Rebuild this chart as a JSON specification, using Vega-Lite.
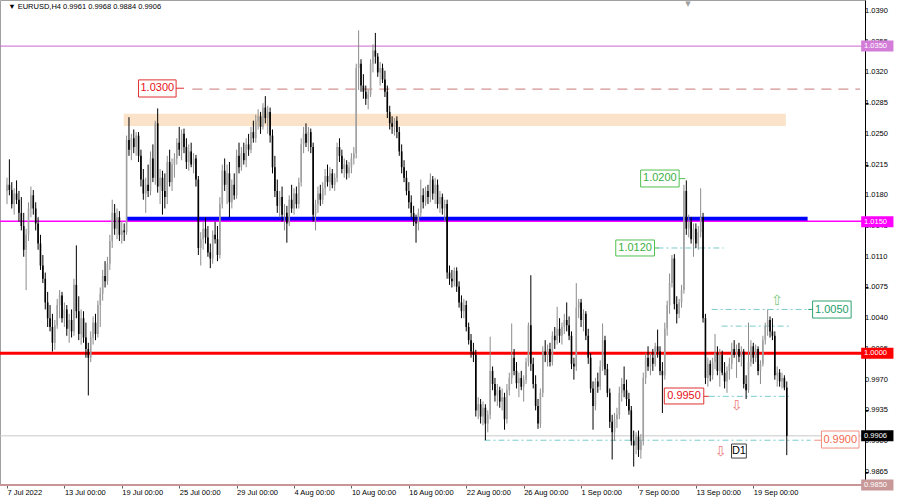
{
"$schema":"https://vega.github.io/schema/vega-lite/v6.json",
"width":865,"height":485,"autosize":"none",
"padding":{"left":0,"top":0,"right":35,"bottom":13},
"background":"#ffffff",
"config":{"view":{"stroke":"#a0a0a0","strokeWidth":1},"axis":{"grid":false}},
"resolve":{"scale":{"stroke":"independent","color":"independent","fill":"independent"}},
"datasets":{"k":[
{"i":0,"o":1.0185,"h":1.0200,"l":1.0170,"c":1.0192},
{"i":1,"o":1.0192,"h":1.0221,"l":1.0180,"c":1.0186},
{"i":2,"o":1.0186,"h":1.0195,"l":1.0165,"c":1.0170},
{"i":3,"o":1.0170,"h":1.0188,"l":1.0158,"c":1.0182},
{"i":4,"o":1.0182,"h":1.0197,"l":1.0170,"c":1.0175},
{"i":5,"o":1.0175,"h":1.0185,"l":1.0150,"c":1.0160},
{"i":6,"o":1.0160,"h":1.0178,"l":1.0140,"c":1.0145},
{"i":7,"o":1.0145,"h":1.0160,"l":1.0110,"c":1.0118},
{"i":8,"o":1.0118,"h":1.0142,"l":1.0072,"c":1.0135},
{"i":9,"o":1.0135,"h":1.0172,"l":1.0128,"c":1.0165},
{"i":10,"o":1.0165,"h":1.0190,"l":1.0155,"c":1.0180},
{"i":11,"o":1.0180,"h":1.0186,"l":1.0158,"c":1.0165},
{"i":12,"o":1.0165,"h":1.0172,"l":1.0140,"c":1.0148},
{"i":13,"o":1.0148,"h":1.0155,"l":1.0118,"c":1.0125},
{"i":14,"o":1.0125,"h":1.0135,"l":1.0095,"c":1.0100},
{"i":15,"o":1.0100,"h":1.0112,"l":1.0080,"c":1.0085},
{"i":16,"o":1.0085,"h":1.0092,"l":1.0050,"c":1.0058},
{"i":17,"o":1.0058,"h":1.0070,"l":1.0030,"c":1.0040},
{"i":18,"o":1.0040,"h":1.0055,"l":1.0025,"c":1.0030},
{"i":19,"o":1.0030,"h":1.0045,"l":1.0002,"c":1.0012},
{"i":20,"o":1.0012,"h":1.0038,"l":1.0004,"c":1.0032},
{"i":21,"o":1.0032,"h":1.0062,"l":1.0028,"c":1.0055},
{"i":22,"o":1.0055,"h":1.0072,"l":1.0040,"c":1.0066},
{"i":23,"o":1.0066,"h":1.0070,"l":1.0035,"c":1.0040},
{"i":24,"o":1.0040,"h":1.0058,"l":1.0030,"c":1.0050},
{"i":25,"o":1.0050,"h":1.0055,"l":1.0020,"c":1.0028},
{"i":26,"o":1.0028,"h":1.0045,"l":1.0012,"c":1.0038},
{"i":27,"o":1.0038,"h":1.0050,"l":1.0018,"c":1.0025},
{"i":28,"o":1.0025,"h":1.0085,"l":1.0020,"c":1.0078},
{"i":29,"o":1.0078,"h":1.0123,"l":1.0040,"c":1.0048},
{"i":30,"o":1.0048,"h":1.0065,"l":1.0015,"c":1.0022},
{"i":31,"o":1.0022,"h":1.0050,"l":1.0010,"c":1.0040},
{"i":32,"o":1.0040,"h":1.0048,"l":1.0012,"c":1.0018},
{"i":33,"o":1.0018,"h":1.0035,"l":0.9995,"c":1.0005},
{"i":34,"o":1.0005,"h":1.0012,"l":0.9952,"c":0.9995},
{"i":35,"o":0.9995,"h":1.0025,"l":0.9990,"c":1.0018},
{"i":36,"o":1.0018,"h":1.0042,"l":1.0010,"c":1.0035},
{"i":37,"o":1.0035,"h":1.0045,"l":1.0015,"c":1.0022},
{"i":38,"o":1.0022,"h":1.0060,"l":1.0018,"c":1.0055},
{"i":39,"o":1.0055,"h":1.0075,"l":1.0030,"c":1.0068},
{"i":40,"o":1.0068,"h":1.0095,"l":1.0060,"c":1.0088},
{"i":41,"o":1.0088,"h":1.0105,"l":1.0075,"c":1.0082},
{"i":42,"o":1.0082,"h":1.0110,"l":1.0078,"c":1.0102},
{"i":43,"o":1.0102,"h":1.0135,"l":1.0095,"c":1.0128},
{"i":44,"o":1.0128,"h":1.0175,"l":1.0120,"c":1.0160},
{"i":45,"o":1.0160,"h":1.0170,"l":1.0135,"c":1.0142},
{"i":46,"o":1.0142,"h":1.0165,"l":1.0130,"c":1.0155},
{"i":47,"o":1.0155,"h":1.0162,"l":1.0128,"c":1.0135},
{"i":48,"o":1.0135,"h":1.0150,"l":1.0125,"c":1.0140},
{"i":49,"o":1.0140,"h":1.0148,"l":1.0128,"c":1.0138},
{"i":50,"o":1.0138,"h":1.0248,"l":1.0135,"c":1.0243},
{"i":51,"o":1.0243,"h":1.0269,"l":1.0225,"c":1.0232},
{"i":52,"o":1.0232,"h":1.0250,"l":1.0220,"c":1.0245},
{"i":53,"o":1.0245,"h":1.0255,"l":1.0228,"c":1.0235},
{"i":54,"o":1.0235,"h":1.0252,"l":1.0225,"c":1.0248},
{"i":55,"o":1.0248,"h":1.0252,"l":1.0218,"c":1.0225},
{"i":56,"o":1.0225,"h":1.0232,"l":1.0190,"c":1.0198},
{"i":57,"o":1.0198,"h":1.0210,"l":1.0175,"c":1.0182},
{"i":58,"o":1.0182,"h":1.0200,"l":1.0160,"c":1.0192},
{"i":59,"o":1.0192,"h":1.0215,"l":1.0178,"c":1.0185},
{"i":60,"o":1.0185,"h":1.0230,"l":1.0180,"c":1.0222},
{"i":61,"o":1.0222,"h":1.0238,"l":1.0195,"c":1.0200},
{"i":62,"o":1.0200,"h":1.0265,"l":1.0192,"c":1.0262},
{"i":63,"o":1.0262,"h":1.0279,"l":1.0183,"c":1.0190},
{"i":64,"o":1.0190,"h":1.0210,"l":1.0170,"c":1.0200},
{"i":65,"o":1.0200,"h":1.0208,"l":1.0158,"c":1.0185},
{"i":66,"o":1.0185,"h":1.0205,"l":1.0165,"c":1.0178},
{"i":67,"o":1.0178,"h":1.0225,"l":1.0170,"c":1.0218},
{"i":68,"o":1.0218,"h":1.0232,"l":1.0190,"c":1.0195},
{"i":69,"o":1.0195,"h":1.0222,"l":1.0185,"c":1.0215},
{"i":70,"o":1.0215,"h":1.0228,"l":1.0200,"c":1.0222},
{"i":71,"o":1.0222,"h":1.0245,"l":1.0215,"c":1.0240},
{"i":72,"o":1.0240,"h":1.0258,"l":1.0225,"c":1.0232},
{"i":73,"o":1.0232,"h":1.0255,"l":1.0220,"c":1.0250},
{"i":74,"o":1.0250,"h":1.0256,"l":1.0228,"c":1.0235},
{"i":75,"o":1.0235,"h":1.0245,"l":1.0210,"c":1.0218},
{"i":76,"o":1.0218,"h":1.0238,"l":1.0208,"c":1.0230},
{"i":77,"o":1.0230,"h":1.0240,"l":1.0212,"c":1.0215},
{"i":78,"o":1.0215,"h":1.0228,"l":1.0205,"c":1.0222},
{"i":79,"o":1.0222,"h":1.0226,"l":1.0190,"c":1.0198},
{"i":80,"o":1.0198,"h":1.0202,"l":1.0112,"c":1.0120},
{"i":81,"o":1.0120,"h":1.0138,"l":1.0100,"c":1.0130},
{"i":82,"o":1.0130,"h":1.0150,"l":1.0118,"c":1.0142},
{"i":83,"o":1.0142,"h":1.0155,"l":1.0125,"c":1.0132},
{"i":84,"o":1.0132,"h":1.0145,"l":1.0110,"c":1.0115},
{"i":85,"o":1.0115,"h":1.0125,"l":1.0097,"c":1.0108},
{"i":86,"o":1.0108,"h":1.0140,"l":1.0102,"c":1.0135},
{"i":87,"o":1.0135,"h":1.0150,"l":1.0125,"c":1.0130},
{"i":88,"o":1.0130,"h":1.0145,"l":1.0105,"c":1.0112},
{"i":89,"o":1.0112,"h":1.0178,"l":1.0108,"c":1.0170},
{"i":90,"o":1.0170,"h":1.0215,"l":1.0165,"c":1.0208},
{"i":91,"o":1.0208,"h":1.0222,"l":1.0185,"c":1.0192},
{"i":92,"o":1.0192,"h":1.0215,"l":1.0170,"c":1.0205},
{"i":93,"o":1.0205,"h":1.0218,"l":1.0155,"c":1.0172},
{"i":94,"o":1.0172,"h":1.0198,"l":1.0165,"c":1.0192},
{"i":95,"o":1.0192,"h":1.0205,"l":1.0175,"c":1.0180},
{"i":96,"o":1.0180,"h":1.0232,"l":1.0176,"c":1.0225},
{"i":97,"o":1.0225,"h":1.0240,"l":1.0205,"c":1.0212},
{"i":98,"o":1.0212,"h":1.0235,"l":1.0208,"c":1.0228},
{"i":99,"o":1.0228,"h":1.0240,"l":1.0215,"c":1.0220},
{"i":100,"o":1.0220,"h":1.0245,"l":1.0212,"c":1.0238},
{"i":101,"o":1.0238,"h":1.0250,"l":1.0225,"c":1.0232},
{"i":102,"o":1.0232,"h":1.0258,"l":1.0228,"c":1.0252},
{"i":103,"o":1.0252,"h":1.0265,"l":1.0240,"c":1.0245},
{"i":104,"o":1.0245,"h":1.0272,"l":1.0240,"c":1.0265},
{"i":105,"o":1.0265,"h":1.0278,"l":1.0255,"c":1.0270},
{"i":106,"o":1.0270,"h":1.0275,"l":1.0250,"c":1.0258},
{"i":107,"o":1.0258,"h":1.0285,"l":1.0255,"c":1.0280},
{"i":108,"o":1.0280,"h":1.0293,"l":1.0262,"c":1.0268},
{"i":109,"o":1.0268,"h":1.0282,"l":1.0250,"c":1.0275},
{"i":110,"o":1.0275,"h":1.0280,"l":1.0240,"c":1.0248},
{"i":111,"o":1.0248,"h":1.0255,"l":1.0205,"c":1.0212},
{"i":112,"o":1.0212,"h":1.0225,"l":1.0178,"c":1.0185},
{"i":113,"o":1.0185,"h":1.0198,"l":1.0160,"c":1.0168},
{"i":114,"o":1.0168,"h":1.0185,"l":1.0155,"c":1.0178},
{"i":115,"o":1.0178,"h":1.0190,"l":1.0150,"c":1.0158},
{"i":116,"o":1.0158,"h":1.0170,"l":1.0140,"c":1.0160},
{"i":117,"o":1.0160,"h":1.0168,"l":1.0126,"c":1.0148},
{"i":118,"o":1.0148,"h":1.0180,"l":1.0145,"c":1.0175},
{"i":119,"o":1.0175,"h":1.0192,"l":1.0160,"c":1.0165},
{"i":120,"o":1.0165,"h":1.0188,"l":1.0158,"c":1.0182},
{"i":121,"o":1.0182,"h":1.0190,"l":1.0165,"c":1.0170},
{"i":122,"o":1.0170,"h":1.0200,"l":1.0165,"c":1.0195},
{"i":123,"o":1.0195,"h":1.0245,"l":1.0190,"c":1.0238},
{"i":124,"o":1.0238,"h":1.0258,"l":1.0228,"c":1.0250},
{"i":125,"o":1.0250,"h":1.0262,"l":1.0235,"c":1.0240},
{"i":126,"o":1.0240,"h":1.0258,"l":1.0230,"c":1.0252},
{"i":127,"o":1.0252,"h":1.0256,"l":1.0228,"c":1.0235},
{"i":128,"o":1.0235,"h":1.0240,"l":1.0150,"c":1.0158},
{"i":129,"o":1.0158,"h":1.0175,"l":1.0140,"c":1.0170},
{"i":130,"o":1.0170,"h":1.0190,"l":1.0160,"c":1.0182},
{"i":131,"o":1.0182,"h":1.0192,"l":1.0168,"c":1.0175},
{"i":132,"o":1.0175,"h":1.0195,"l":1.0170,"c":1.0188},
{"i":133,"o":1.0188,"h":1.0210,"l":1.0180,"c":1.0202},
{"i":134,"o":1.0202,"h":1.0215,"l":1.0190,"c":1.0195},
{"i":135,"o":1.0195,"h":1.0212,"l":1.0185,"c":1.0205},
{"i":136,"o":1.0205,"h":1.0210,"l":1.0188,"c":1.0192},
{"i":137,"o":1.0192,"h":1.0205,"l":1.0185,"c":1.0200},
{"i":138,"o":1.0200,"h":1.0240,"l":1.0195,"c":1.0235},
{"i":139,"o":1.0235,"h":1.0245,"l":1.0218,"c":1.0225},
{"i":140,"o":1.0225,"h":1.0232,"l":1.0205,"c":1.0210},
{"i":141,"o":1.0210,"h":1.0222,"l":1.0200,"c":1.0215},
{"i":142,"o":1.0215,"h":1.0220,"l":1.0198,"c":1.0205},
{"i":143,"o":1.0205,"h":1.0218,"l":1.0200,"c":1.0212},
{"i":144,"o":1.0212,"h":1.0228,"l":1.0205,"c":1.0222},
{"i":145,"o":1.0222,"h":1.0235,"l":1.0215,"c":1.0228},
{"i":146,"o":1.0228,"h":1.0330,"l":1.0222,"c":1.0325},
{"i":147,"o":1.0325,"h":1.0368,"l":1.0300,"c":1.0330},
{"i":148,"o":1.0330,"h":1.0335,"l":1.0298,"c":1.0305},
{"i":149,"o":1.0305,"h":1.0318,"l":1.0290,"c":1.0298},
{"i":150,"o":1.0298,"h":1.0305,"l":1.0283,"c":1.0290},
{"i":151,"o":1.0290,"h":1.0300,"l":1.0278,"c":1.0295},
{"i":152,"o":1.0295,"h":1.0335,"l":1.0292,"c":1.0330},
{"i":153,"o":1.0330,"h":1.0352,"l":1.0320,"c":1.0345},
{"i":154,"o":1.0345,"h":1.0365,"l":1.0330,"c":1.0338},
{"i":155,"o":1.0338,"h":1.0342,"l":1.0315,"c":1.0320},
{"i":156,"o":1.0320,"h":1.0332,"l":1.0305,"c":1.0325},
{"i":157,"o":1.0325,"h":1.0330,"l":1.0308,"c":1.0312},
{"i":158,"o":1.0312,"h":1.0322,"l":1.0292,"c":1.0298},
{"i":159,"o":1.0298,"h":1.0305,"l":1.0268,"c":1.0275},
{"i":160,"o":1.0275,"h":1.0282,"l":1.0255,"c":1.0262},
{"i":161,"o":1.0262,"h":1.0270,"l":1.0250,"c":1.0258},
{"i":162,"o":1.0258,"h":1.0268,"l":1.0248,"c":1.0265},
{"i":163,"o":1.0265,"h":1.0270,"l":1.0245,"c":1.0252},
{"i":164,"o":1.0252,"h":1.0258,"l":1.0225,"c":1.0230},
{"i":165,"o":1.0230,"h":1.0238,"l":1.0205,"c":1.0212},
{"i":166,"o":1.0212,"h":1.0220,"l":1.0195,"c":1.0200},
{"i":167,"o":1.0200,"h":1.0208,"l":1.0180,"c":1.0185},
{"i":168,"o":1.0185,"h":1.0195,"l":1.0165,"c":1.0172},
{"i":169,"o":1.0172,"h":1.0180,"l":1.0155,"c":1.0160},
{"i":170,"o":1.0160,"h":1.0168,"l":1.0145,"c":1.0150},
{"i":171,"o":1.0150,"h":1.0158,"l":1.0126,"c":1.0148},
{"i":172,"o":1.0148,"h":1.0165,"l":1.0140,"c":1.0160},
{"i":173,"o":1.0160,"h":1.0198,"l":1.0155,"c":1.0180},
{"i":174,"o":1.0180,"h":1.0188,"l":1.0165,"c":1.0172},
{"i":175,"o":1.0172,"h":1.0190,"l":1.0168,"c":1.0185},
{"i":176,"o":1.0185,"h":1.0192,"l":1.0170,"c":1.0178},
{"i":177,"o":1.0178,"h":1.0205,"l":1.0172,"c":1.0198},
{"i":178,"o":1.0198,"h":1.0202,"l":1.0175,"c":1.0182},
{"i":179,"o":1.0182,"h":1.0200,"l":1.0170,"c":1.0192},
{"i":180,"o":1.0192,"h":1.0198,"l":1.0165,"c":1.0170},
{"i":181,"o":1.0170,"h":1.0185,"l":1.0160,"c":1.0178},
{"i":182,"o":1.0178,"h":1.0182,"l":1.0158,"c":1.0165},
{"i":183,"o":1.0165,"h":1.0175,"l":1.0150,"c":1.0170},
{"i":184,"o":1.0170,"h":1.0175,"l":1.0085,"c":1.0092},
{"i":185,"o":1.0092,"h":1.0100,"l":1.0078,"c":1.0085},
{"i":186,"o":1.0085,"h":1.0095,"l":1.0075,"c":1.0082},
{"i":187,"o":1.0082,"h":1.0098,"l":1.0076,"c":1.0094},
{"i":188,"o":1.0094,"h":1.0098,"l":1.0070,"c":1.0076},
{"i":189,"o":1.0076,"h":1.0082,"l":1.0052,"c":1.0058},
{"i":190,"o":1.0058,"h":1.0066,"l":1.0040,"c":1.0048},
{"i":191,"o":1.0048,"h":1.0062,"l":1.0040,"c":1.0055},
{"i":192,"o":1.0055,"h":1.0060,"l":1.0025,"c":1.0030},
{"i":193,"o":1.0030,"h":1.0035,"l":1.0010,"c":1.0015},
{"i":194,"o":1.0015,"h":1.0022,"l":0.9995,"c":1.0002},
{"i":195,"o":1.0002,"h":1.0012,"l":0.9990,"c":0.9998},
{"i":196,"o":0.9998,"h":1.0004,"l":0.9928,"c":0.9935},
{"i":197,"o":0.9935,"h":0.9950,"l":0.9925,"c":0.9942},
{"i":198,"o":0.9942,"h":0.9948,"l":0.9920,"c":0.9928},
{"i":199,"o":0.9928,"h":0.9945,"l":0.9918,"c":0.9938},
{"i":200,"o":0.9938,"h":0.9942,"l":0.9901,"c":0.9920},
{"i":201,"o":0.9920,"h":0.9935,"l":0.9910,"c":0.9930},
{"i":202,"o":0.9930,"h":1.0019,"l":0.9925,"c":0.9980},
{"i":203,"o":0.9980,"h":0.9985,"l":0.9958,"c":0.9965},
{"i":204,"o":0.9965,"h":0.9972,"l":0.9945,"c":0.9952},
{"i":205,"o":0.9952,"h":0.9965,"l":0.9940,"c":0.9958},
{"i":206,"o":0.9958,"h":0.9962,"l":0.9938,"c":0.9945},
{"i":207,"o":0.9945,"h":0.9960,"l":0.9935,"c":0.9950},
{"i":208,"o":0.9950,"h":0.9955,"l":0.9913,"c":0.9925},
{"i":209,"o":0.9925,"h":0.9965,"l":0.9920,"c":0.9958},
{"i":210,"o":0.9958,"h":0.9978,"l":0.9952,"c":0.9972},
{"i":211,"o":0.9972,"h":1.0034,"l":0.9965,"c":0.9995},
{"i":212,"o":0.9995,"h":1.0005,"l":0.9975,"c":0.9980},
{"i":213,"o":0.9980,"h":0.9990,"l":0.9960,"c":0.9966},
{"i":214,"o":0.9966,"h":0.9978,"l":0.9950,"c":0.9972},
{"i":215,"o":0.9972,"h":0.9980,"l":0.9958,"c":0.9962},
{"i":216,"o":0.9962,"h":0.9975,"l":0.9945,"c":0.9970},
{"i":217,"o":0.9970,"h":0.9995,"l":0.9965,"c":0.9990},
{"i":218,"o":0.9990,"h":1.0035,"l":0.9985,"c":1.0032},
{"i":219,"o":1.0032,"h":1.0089,"l":0.9980,"c":0.9988},
{"i":220,"o":0.9988,"h":0.9995,"l":0.9960,"c":0.9965},
{"i":221,"o":0.9965,"h":0.9975,"l":0.9935,"c":0.9940},
{"i":222,"o":0.9940,"h":0.9948,"l":0.9914,"c":0.9920},
{"i":223,"o":0.9920,"h":0.9960,"l":0.9915,"c":0.9955},
{"i":224,"o":0.9955,"h":1.0008,"l":0.9950,"c":1.0002},
{"i":225,"o":1.0002,"h":1.0015,"l":0.9990,"c":0.9998},
{"i":226,"o":0.9998,"h":1.0010,"l":0.9985,"c":1.0005},
{"i":227,"o":1.0005,"h":1.0012,"l":0.9985,"c":0.9990},
{"i":228,"o":0.9990,"h":1.0025,"l":0.9986,"c":1.0020},
{"i":229,"o":1.0020,"h":1.0030,"l":1.0005,"c":1.0015},
{"i":230,"o":1.0015,"h":1.0053,"l":1.0010,"c":1.0028},
{"i":231,"o":1.0028,"h":1.0040,"l":1.0012,"c":1.0020},
{"i":232,"o":1.0020,"h":1.0035,"l":1.0010,"c":1.0030},
{"i":233,"o":1.0030,"h":1.0045,"l":1.0022,"c":1.0038},
{"i":234,"o":1.0038,"h":1.0058,"l":1.0025,"c":1.0032},
{"i":235,"o":1.0032,"h":1.0042,"l":1.0015,"c":1.0020},
{"i":236,"o":1.0020,"h":1.0025,"l":0.9982,"c":0.9988},
{"i":237,"o":0.9988,"h":0.9995,"l":0.9970,"c":0.9985},
{"i":238,"o":0.9985,"h":1.0080,"l":0.9980,"c":1.0052},
{"i":239,"o":1.0052,"h":1.0062,"l":1.0040,"c":1.0058},
{"i":240,"o":1.0058,"h":1.0062,"l":1.0030,"c":1.0038},
{"i":241,"o":1.0038,"h":1.0050,"l":1.0025,"c":1.0045},
{"i":242,"o":1.0045,"h":1.0048,"l":1.0015,"c":1.0020},
{"i":243,"o":1.0020,"h":1.0028,"l":0.9988,"c":0.9995},
{"i":244,"o":0.9995,"h":1.0000,"l":0.9955,"c":0.9960},
{"i":245,"o":0.9960,"h":0.9968,"l":0.9913,"c":0.9940},
{"i":246,"o":0.9940,"h":0.9972,"l":0.9935,"c":0.9968},
{"i":247,"o":0.9968,"h":0.9978,"l":0.9955,"c":0.9962},
{"i":248,"o":0.9962,"h":0.9992,"l":0.9958,"c":0.9985},
{"i":249,"o":0.9985,"h":1.0034,"l":0.9980,"c":1.0015},
{"i":250,"o":1.0015,"h":1.0020,"l":0.9975,"c":0.9982},
{"i":251,"o":0.9982,"h":0.9988,"l":0.9950,"c":0.9955},
{"i":252,"o":0.9955,"h":0.9960,"l":0.9915,"c":0.9922},
{"i":253,"o":0.9922,"h":0.9930,"l":0.9879,"c":0.9910},
{"i":254,"o":0.9910,"h":0.9932,"l":0.9900,"c":0.9925},
{"i":255,"o":0.9925,"h":0.9938,"l":0.9915,"c":0.9930},
{"i":256,"o":0.9930,"h":0.9962,"l":0.9925,"c":0.9955},
{"i":257,"o":0.9955,"h":0.9972,"l":0.9945,"c":0.9965},
{"i":258,"o":0.9965,"h":0.9985,"l":0.9950,"c":0.9958},
{"i":259,"o":0.9958,"h":0.9970,"l":0.9940,"c":0.9948},
{"i":260,"o":0.9948,"h":0.9955,"l":0.9930,"c":0.9935},
{"i":261,"o":0.9935,"h":0.9940,"l":0.9895,"c":0.9900},
{"i":262,"o":0.9900,"h":0.9912,"l":0.9871,"c":0.9895},
{"i":263,"o":0.9895,"h":0.9910,"l":0.9885,"c":0.9905},
{"i":264,"o":0.9905,"h":0.9912,"l":0.9882,"c":0.9890},
{"i":265,"o":0.9890,"h":0.9908,"l":0.9880,"c":0.9900},
{"i":266,"o":0.9900,"h":0.9978,"l":0.9895,"c":0.9972},
{"i":267,"o":0.9972,"h":1.0000,"l":0.9965,"c":0.9995},
{"i":268,"o":0.9995,"h":1.0008,"l":0.9980,"c":0.9985},
{"i":269,"o":0.9985,"h":1.0000,"l":0.9975,"c":0.9995},
{"i":270,"o":0.9995,"h":1.0005,"l":0.9980,"c":0.9988},
{"i":271,"o":0.9988,"h":1.0012,"l":0.9985,"c":1.0008},
{"i":272,"o":1.0008,"h":1.0027,"l":0.9995,"c":1.0002},
{"i":273,"o":1.0002,"h":1.0008,"l":0.9975,"c":0.9980},
{"i":274,"o":0.9980,"h":0.9990,"l":0.9932,"c":0.9975},
{"i":275,"o":0.9975,"h":1.0035,"l":0.9970,"c":1.0028},
{"i":276,"o":1.0028,"h":1.0060,"l":1.0020,"c":1.0055},
{"i":277,"o":1.0055,"h":1.0091,"l":1.0045,"c":1.0080},
{"i":278,"o":1.0080,"h":1.0112,"l":1.0075,"c":1.0108},
{"i":279,"o":1.0108,"h":1.0113,"l":1.0050,"c":1.0056},
{"i":280,"o":1.0056,"h":1.0065,"l":1.0034,"c":1.0045},
{"i":281,"o":1.0045,"h":1.0062,"l":1.0040,"c":1.0058},
{"i":282,"o":1.0058,"h":1.0078,"l":1.0052,"c":1.0072},
{"i":283,"o":1.0072,"h":1.0192,"l":1.0068,"c":1.0185},
{"i":284,"o":1.0185,"h":1.0197,"l":1.0135,"c":1.0142},
{"i":285,"o":1.0142,"h":1.0158,"l":1.0132,"c":1.0150},
{"i":286,"o":1.0150,"h":1.0155,"l":1.0125,"c":1.0130},
{"i":287,"o":1.0130,"h":1.0148,"l":1.0110,"c":1.0142},
{"i":288,"o":1.0142,"h":1.0148,"l":1.0120,"c":1.0125},
{"i":289,"o":1.0125,"h":1.0145,"l":1.0118,"c":1.0138},
{"i":290,"o":1.0138,"h":1.0188,"l":1.0132,"c":1.0155},
{"i":291,"o":1.0155,"h":1.0160,"l":1.0035,"c":1.0040},
{"i":292,"o":1.0040,"h":1.0045,"l":0.9965,"c":0.9972},
{"i":293,"o":0.9972,"h":0.9995,"l":0.9962,"c":0.9988},
{"i":294,"o":0.9988,"h":0.9992,"l":0.9968,"c":0.9975},
{"i":295,"o":0.9975,"h":0.9995,"l":0.9970,"c":0.9990},
{"i":296,"o":0.9990,"h":1.0022,"l":0.9982,"c":1.0000},
{"i":297,"o":1.0000,"h":1.0008,"l":0.9975,"c":0.9980},
{"i":298,"o":0.9980,"h":1.0005,"l":0.9962,"c":0.9998},
{"i":299,"o":0.9998,"h":1.0003,"l":0.9975,"c":0.9978},
{"i":300,"o":0.9978,"h":0.9990,"l":0.9960,"c":0.9968},
{"i":301,"o":0.9968,"h":0.9985,"l":0.9955,"c":0.9980},
{"i":302,"o":0.9980,"h":0.9995,"l":0.9970,"c":0.9988},
{"i":303,"o":0.9988,"h":1.0012,"l":0.9982,"c":1.0005},
{"i":304,"o":1.0005,"h":1.0015,"l":0.9995,"c":0.9998},
{"i":305,"o":0.9998,"h":1.0010,"l":0.9972,"c":1.0005},
{"i":306,"o":1.0005,"h":1.0012,"l":0.9990,"c":0.9996},
{"i":307,"o":0.9996,"h":1.0008,"l":0.9985,"c":1.0002},
{"i":308,"o":1.0002,"h":1.0005,"l":0.9960,"c":0.9965},
{"i":309,"o":0.9965,"h":0.9975,"l":0.9948,"c":0.9958},
{"i":310,"o":0.9958,"h":1.0035,"l":0.9955,"c":0.9990},
{"i":311,"o":0.9990,"h":1.0015,"l":0.9985,"c":1.0008},
{"i":312,"o":1.0008,"h":1.0012,"l":0.9988,"c":0.9995},
{"i":313,"o":0.9995,"h":1.0010,"l":0.9990,"c":1.0005},
{"i":314,"o":1.0005,"h":1.0008,"l":0.9975,"c":0.9980},
{"i":315,"o":0.9980,"h":0.9992,"l":0.9965,"c":0.9988},
{"i":316,"o":0.9988,"h":1.0020,"l":0.9985,"c":1.0015},
{"i":317,"o":1.0015,"h":1.0035,"l":1.0010,"c":1.0030},
{"i":318,"o":1.0030,"h":1.0050,"l":1.0020,"c":1.0038},
{"i":319,"o":1.0038,"h":1.0042,"l":1.0018,"c":1.0025},
{"i":320,"o":1.0025,"h":1.0040,"l":1.0015,"c":1.0020},
{"i":321,"o":1.0020,"h":1.0025,"l":0.9970,"c":0.9975},
{"i":322,"o":0.9975,"h":0.9985,"l":0.9962,"c":0.9978},
{"i":323,"o":0.9978,"h":0.9982,"l":0.9962,"c":0.9968},
{"i":324,"o":0.9968,"h":0.9978,"l":0.9960,"c":0.9972},
{"i":325,"o":0.9972,"h":0.9975,"l":0.9958,"c":0.9961},
{"i":326,"o":0.9961,"h":0.9968,"l":0.9884,"c":0.9906}
]},
"layer":[
{"data":{"values":[{"a":48.8,"b":325.6,"lo":1.0259,"hi":1.0273}]},
 "mark":{"type":"rect","color":"#fae3c8"},
 "encoding":{"x":{"field":"a","type":"quantitative","title":null},"x2":{"field":"b"},"y":{"field":"lo","type":"quantitative","title":null},"y2":{"field":"hi"}}},
{"data":{"values":[{"p":0.9906}]},
 "mark":{"type":"rule","color":"#c8c8c8","strokeWidth":1},
 "encoding":{"y":{"field":"p","type":"quantitative","title":null}}},
{"data":{"values":[{"p":1.0350}]},
 "mark":{"type":"rule","color":"#cc66cc","strokeWidth":1},
 "encoding":{"y":{"field":"p","type":"quantitative","title":null}}},
{"data":{"values":[{"a":77.5,"b":356.6,"p":1.0301}]},
 "mark":{"type":"rule","color":"#c87878","strokeWidth":1,"strokeDash":[10,7]},
 "encoding":{"x":{"field":"a","type":"quantitative","title":null},"x2":{"field":"b"},"y":{"field":"p","type":"quantitative","title":null}}},
{"data":{"values":[{"a":271.9,"b":299.6,"p":1.0120},{"a":294.6,"b":336.0,"p":1.0050},{"a":298.8,"b":327.7,"p":1.0031},{"a":293.4,"b":326.9,"p":0.9951},{"a":199.6,"b":336.0,"p":0.9901}]},
 "mark":{"type":"rule","color":"#79cccc","strokeWidth":1,"strokeDash":[6,3,2,3]},
 "encoding":{"x":{"field":"a","type":"quantitative","title":null},"x2":{"field":"b"},"y":{"field":"p","type":"quantitative","title":null}}},
{"data":{"values":[{"a":50.0,"b":334.7,"p":1.01528}]},
 "mark":{"type":"rule","color":"#0000ff","strokeWidth":5},
 "encoding":{"x":{"field":"a","type":"quantitative","title":null},"x2":{"field":"b"},"y":{"field":"p","type":"quantitative","title":null}}},
{"data":{"values":[{"p":1.01505}]},
 "mark":{"type":"rule","color":"#ff00ff","strokeWidth":1.5},
 "encoding":{"y":{"field":"p","type":"quantitative","title":null}}},
{"data":{"values":[{"p":1.0000}]},
 "mark":{"type":"rule","color":"#ff0000","strokeWidth":3},
 "encoding":{"y":{"field":"p","type":"quantitative","title":null}}},
{"data":{"values":[{"p":0.9850}]},
 "mark":{"type":"rule","color":"#c89696","strokeWidth":2},
 "encoding":{"y":{"field":"p","type":"quantitative","title":null}}},
{"data":{"name":"k"},
 "mark":{"type":"rule","strokeWidth":1},
 "encoding":{
  "x":{"field":"i","type":"quantitative","title":null,"scale":{"domain":[-0.83,356.61],"nice":false,"zero":false},
   "axis":{"orient":"bottom","values":[0,24,48,72,96,120,144,168,192,216,240,264,288,312],
    "labelExpr":"['7 Jul 2022','13 Jul 00:00','19 Jul 00:00','25 Jul 00:00','29 Jul 00:00','4 Aug 00:00','10 Aug 00:00','16 Aug 00:00','22 Aug 00:00','26 Aug 00:00','1 Sep 00:00','7 Sep 00:00','13 Sep 00:00','19 Sep 00:00'][round(datum.value/24)]",
    "labelAlign":"left","labelFont":"Liberation Sans","labelFontSize":7.5,"labelColor":"#000000","tickSize":3,"tickColor":"#606060","domain":false,"labelPadding":0,"title":null,"labelOverlap":false,"labelFlush":false,"labelBound":false}},
  "y":{"field":"l","type":"quantitative","title":null,"scale":{"domain":[0.985,1.04025],"nice":false,"zero":false},
   "axis":{"orient":"right","values":[0.9865,0.99,0.9935,0.997,1.0005,1.004,1.0075,1.011,1.0145,1.018,1.0215,1.025,1.0285,1.032,1.0355,1.039],
    "labels":false,"tickSize":3,"tickColor":"#000000","domainColor":"#000000","title":null}},
  "y2":{"field":"h"},
  "color":{"condition":{"test":"datum.c < datum.o","value":"#000000"},"value":"#8c8c8c"}}},
{"data":{"name":"k"},
 "mark":{"type":"bar","size":1.6},
 "encoding":{
  "x":{"field":"i","type":"quantitative","title":null},
  "y":{"field":"o","type":"quantitative","title":null},
  "y2":{"field":"c"},
  "color":{"condition":{"test":"datum.c < datum.o","value":"#000000"},"value":"#a0a0a0"}}},
{"data":{"values":[
  {"t":"1.0300","a":55.0,"b":70.7,"lo":1.0292,"hi":1.03115},
  {"t":"1.0200","a":264.9,"b":281.0,"lo":1.01895,"hi":1.02088},
  {"t":"1.0120","a":254.5,"b":270.7,"lo":1.01109,"hi":1.01291},
  {"t":"1.0050","a":336.8,"b":352.9,"lo":1.00402,"hi":1.00596},
  {"t":"0.9950","a":274.8,"b":291.3,"lo":0.99423,"hi":0.99605},
  {"t":"0.9900","a":340.5,"b":356.2,"lo":0.98921,"hi":0.99115},
  {"t":"D1","a":302.9,"b":309.1,"lo":0.98807,"hi":0.98967}]},
 "mark":{"type":"rect","fill":"#ffffff","strokeWidth":1},
 "encoding":{"x":{"field":"a","type":"quantitative","title":null},"x2":{"field":"b"},"y":{"field":"lo","type":"quantitative","title":null},"y2":{"field":"hi"},
  "stroke":{"field":"t","type":"nominal","legend":null,"scale":{"domain":["1.0300","1.0200","1.0120","1.0050","0.9950","0.9900","D1"],"range":["#e03030","#50c050","#50c050","#30a070","#e03030","#f09080","#404040"]}}}},
{"data":{"values":[
  {"t":"1.0300","a":70.7,"b":74.0,"p":1.0302},
  {"t":"1.0200","a":281.0,"b":283.6,"p":1.0199},
  {"t":"1.0120","a":270.7,"b":272.5,"p":1.0120},
  {"t":"1.0050","a":335.0,"b":336.8,"p":1.0050},
  {"t":"0.9950","a":291.3,"b":293.4,"p":0.9951},
  {"t":"0.9900","a":337.5,"b":340.5,"p":0.9901}]},
 "mark":{"type":"rule","strokeWidth":1},
 "encoding":{"x":{"field":"a","type":"quantitative","title":null},"x2":{"field":"b"},"y":{"field":"p","type":"quantitative","title":null},
  "stroke":{"field":"t","type":"nominal","legend":null,"scale":{"domain":["1.0300","1.0200","1.0120","1.0050","0.9950","0.9900"],"range":["#e03030","#50c050","#50c050","#30a070","#e03030","#f09080"]}}}},
{"data":{"values":[
  {"t":"1.0300","x":62.85,"p":1.0302},
  {"t":"1.0200","x":272.95,"p":1.01992},
  {"t":"1.0120","x":262.6,"p":1.0120},
  {"t":"1.0050","x":344.85,"p":1.00499},
  {"t":"0.9950","x":283.05,"p":0.99514},
  {"t":"0.9900","x":348.35,"p":0.99018},
  {"t":"D1","x":306.0,"p":0.98887}]},
 "mark":{"type":"text","font":"Liberation Sans","fontSize":11,"align":"center","baseline":"middle"},
 "encoding":{"x":{"field":"x","type":"quantitative","title":null},"y":{"field":"p","type":"quantitative","title":null},"text":{"field":"t"},
  "color":{"field":"t","type":"nominal","legend":null,"scale":{"domain":["1.0300","1.0200","1.0120","1.0050","0.9950","0.9900","D1"],"range":["#e8101a","#3cb043","#3cb043","#269e68","#e8101a","#f06a50","#000000"]}}}},
{"data":{"values":[{"s":"⇧","x":321.9,"p":1.0060}]},
 "mark":{"type":"text","font":"DejaVu Sans","fontSize":14,"color":"#7cc87c","align":"center","baseline":"middle"},
 "encoding":{"x":{"field":"x","type":"quantitative","title":null},"y":{"field":"p","type":"quantitative","title":null},"text":{"field":"s"}}},
{"data":{"values":[{"s":"⇩","x":305.0,"p":0.9940},{"s":"⇩","x":298.3,"p":0.98876}]},
 "mark":{"type":"text","font":"DejaVu Sans","fontSize":14,"color":"#f07a7a","align":"center","baseline":"middle"},
 "encoding":{"x":{"field":"x","type":"quantitative","title":null},"y":{"field":"p","type":"quantitative","title":null},"text":{"field":"s"}}},
{"data":{"values":[{"v":"0.9865","p":0.9865},{"v":"0.9900","p":0.99},{"v":"0.9935","p":0.9935},{"v":"0.9970","p":0.997},{"v":"1.0005","p":1.0005},{"v":"1.0040","p":1.004},{"v":"1.0075","p":1.0075},{"v":"1.0110","p":1.011},{"v":"1.0145","p":1.0145},{"v":"1.0180","p":1.018},{"v":"1.0215","p":1.0215},{"v":"1.0250","p":1.025},{"v":"1.0285","p":1.0285},{"v":"1.0320","p":1.032},{"v":"1.0355","p":1.0355},{"v":"1.0390","p":1.039}]},
 "mark":{"type":"text","font":"Liberation Sans","fontSize":7.5,"color":"#000000","align":"left","baseline":"middle"},
 "encoding":{"x":{"datum":358.7,"type":"quantitative","title":null},"y":{"field":"p","type":"quantitative","title":null},"text":{"field":"v"}}},
{"data":{"values":[{"h":"1.0350","p":1.0350},{"h":"1.0150","p":1.0150},{"h":"1.0000","p":1.0000},{"h":"0.9906","p":0.9906},{"h":"0.9850","p":0.9850}]},
 "mark":{"type":"rule","strokeWidth":11},
 "encoding":{"x":{"datum":357.1,"type":"quantitative","title":null},"x2":{"datum":370.6},"y":{"field":"p","type":"quantitative","title":null},
  "stroke":{"field":"h","type":"nominal","legend":null,"scale":{"domain":["1.0350","1.0150","1.0000","0.9906","0.9850"],"range":["#d47dd8","#ff00ff","#ff0000","#000000","#c89898"]}}}},
{"data":{"values":[{"h":"1.0350","p":1.0350},{"h":"1.0150","p":1.0150},{"h":"1.0000","p":1.0000},{"h":"0.9906","p":0.9906},{"h":"0.9850","p":0.9850}]},
 "mark":{"type":"text","font":"Liberation Sans","fontSize":7.5,"color":"#ffffff","align":"left","baseline":"middle"},
 "encoding":{"x":{"datum":358.3,"type":"quantitative","title":null},"y":{"field":"p","type":"quantitative","title":null},"text":{"field":"h"}}},
{"data":{"values":[{"t":"▼ EURUSD,H4  0.9961 0.9968 0.9884 0.9906"}]},
 "mark":{"type":"text","font":"Liberation Sans","fontSize":7.5,"color":"#000000","align":"left","baseline":"middle"},
 "encoding":{"x":{"datum":0.5,"type":"quantitative","title":null},"y":{"datum":1.03945,"type":"quantitative","title":null},"text":{"field":"t"}}},
{"data":{"values":[{"t":"▼"}]},
 "mark":{"type":"text","font":"DejaVu Sans","fontSize":7,"color":"#a0a0a0","align":"center","baseline":"middle"},
 "encoding":{"x":{"datum":284.7,"type":"quantitative","title":null},"y":{"datum":1.0398,"type":"quantitative","title":null},"text":{"field":"t"}}}
]
}
